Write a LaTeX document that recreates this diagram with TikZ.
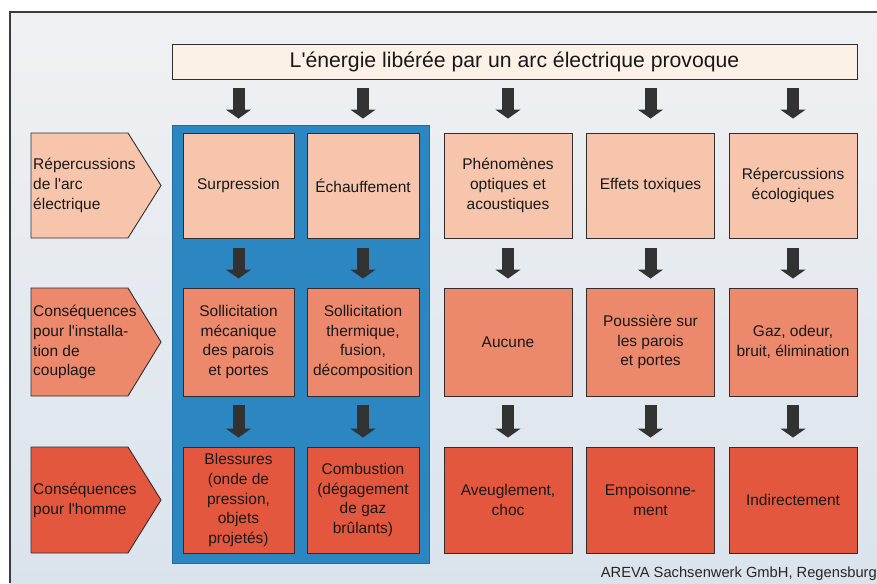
\documentclass[tikz,border=0pt]{standalone}
\usepackage{fontspec}
\setmainfont{Liberation Sans}
\usetikzlibrary{arrows.meta,calc}
\newcommand{\apos}{\textquotesingle}
\definecolor{bgtop}{RGB}{240,241,243}
\definecolor{bgbot}{RGB}{218,227,236}
\definecolor{framecol}{RGB}{60,60,60}
\definecolor{titlefill}{RGB}{252,241,231}
\definecolor{panelblue}{RGB}{44,134,193}
\definecolor{rowa}{RGB}{246,197,172}
\definecolor{rowb}{RGB}{236,136,108}
\definecolor{rowc}{RGB}{228,87,63}
\definecolor{arrowcol}{RGB}{50,50,50}
\definecolor{edgecol}{RGB}{50,45,45}
\tikzset{
  boxbase/.style={draw=edgecol, line width=0.9pt, align=center, inner sep=0pt,
    font=\fontsize{15.5}{19.8}\selectfont, text=black!90},
  boxa/.style={boxbase, fill=rowa},
  boxb/.style={boxbase, fill=rowb},
  boxc/.style={boxbase, fill=rowc},
  flow/.style={draw=arrowcol, line width=12pt, -{Triangle[width=25pt,length=9pt]}},
  lbltext/.style={anchor=west, align=left, inner sep=0pt,
    font=\fontsize{15.5}{19.8}\selectfont, text=black!90},
  lblshape/.style={draw=edgecol, line width=0.9pt, line join=miter},
}
\begin{document}
\begin{tikzpicture}[x=1pt,y=-1pt]
\useasboundingbox (0,0) rectangle (877,583);
\fill[white] (0,0) rectangle (877,583);
\shade[top color=bgtop, bottom color=bgbot] (10,12) rectangle (877,583);
\draw[framecol, line width=1.2pt] (10,583) -- (10,12) -- (877,12);

% title
\node[draw=edgecol, line width=0.9pt, fill=titlefill, minimum width=685pt, minimum height=35pt,
  inner sep=0pt, font=\fontsize{21.2}{24}\selectfont, text=black!90] (title) at (514.5,61.5)
  {L\apos énergie libérée par un arc électrique provoque};

% blue panel
\node[draw=panelblue!80!black, line width=0.6pt, fill=panelblue, minimum width=257pt,
  minimum height=438pt, inner sep=0pt] (panel) at (300.5,344.5) {};

% row 1
\begin{scope}[every node/.append style={minimum height=105pt}]
\node[boxa, minimum width=111pt] (a1) at (238.5,185.5) {Surpression};
\node[boxa, minimum width=112pt] (a2) at (363,185.5) {Échauffement};
\node[boxa, minimum width=128pt] (a3) at (508,185.5) {Phénomènes\\optiques et\\acoustiques};
\node[boxa, minimum width=128pt] (a4) at (650.5,185.5) {Effets toxiques};
\node[boxa, minimum width=128pt] (a5) at (793,185.5) {Répercussions\\écologiques};
\end{scope}
% row 2
\begin{scope}[every node/.append style={minimum height=108pt}]
\node[boxb, minimum width=111pt] (b1) at (238.5,342) {Sollicitation\\mécanique\\des parois\\et portes};
\node[boxb, minimum width=112pt] (b2) at (363,342) {Sollicitation\\thermique,\\fusion,\\décomposition};
\node[boxb, minimum width=128pt] (b3) at (508,342) {Aucune};
\node[boxb, minimum width=128pt] (b4) at (650.5,342) {Poussière sur\\les parois\\et portes};
\node[boxb, minimum width=128pt] (b5) at (793,342) {Gaz, odeur,\\bruit, élimination};
\end{scope}
% row 3
\begin{scope}[every node/.append style={minimum height=106pt}]
\node[boxc, minimum width=111pt] (c1) at (238.5,500) {Blessures\\(onde de\\pression,\\objets\\projetés)};
\node[boxc, minimum width=112pt] (c2) at (363,500) {Combustion\\(dégagement\\de gaz\\brûlants)};
\node[boxc, minimum width=128pt] (c3) at (508,500) {Aveuglement,\\choc};
\node[boxc, minimum width=128pt] (c4) at (650.5,500) {Empoisonne-\\ment};
\node[boxc, minimum width=128pt] (c5) at (793,500) {Indirectement};
\end{scope}

% arrows
\foreach \i in {1,...,5}{
  \draw[flow, shorten <=9pt, shorten >=14pt] (title.south -| a\i.north) -- (a\i.north);
  \draw[flow, shorten <=10pt, shorten >=9pt] (a\i.south) -- (b\i.north);
  \draw[flow, shorten <=9pt, shorten >=9pt] (b\i.south) -- (c\i.north);
}

% left labels
\fill[rowa] (31,133) -- (128,133) -- (161,185.5) -- (128,238) -- (31,238) -- cycle;
\draw[lblshape] (31,133) -- (128,133) -- (161,185.5) -- (128,238) -- (31,238) -- cycle;
\node[lbltext] (la) at (33,185.5) {Répercussions\\de l\apos arc\\électrique};

\fill[rowb] (31,288) -- (128,288) -- (161,342) -- (128,396) -- (31,396) -- cycle;
\draw[lblshape] (31,288) -- (128,288) -- (161,342) -- (128,396) -- (31,396) -- cycle;
\node[lbltext] (lb) at (33,342) {Conséquences\\pour l\apos installa-\\tion de\\couplage};

\fill[rowc] (31,447) -- (128,447) -- (161,500) -- (128,553) -- (31,553) -- cycle;
\draw[lblshape] (31,447) -- (128,447) -- (161,500) -- (128,553) -- (31,553) -- cycle;
\node[lbltext] (lc) at (33,500) {Conséquences\\pour l\apos homme};

% credit
\node[anchor=base east, inner sep=0pt, font=\fontsize{14.7}{16}\selectfont, text=black!85] (credit)
  at (877,577.5) {AREVA Sachsenwerk GmbH, Regensburg};
\end{tikzpicture}
\end{document}
